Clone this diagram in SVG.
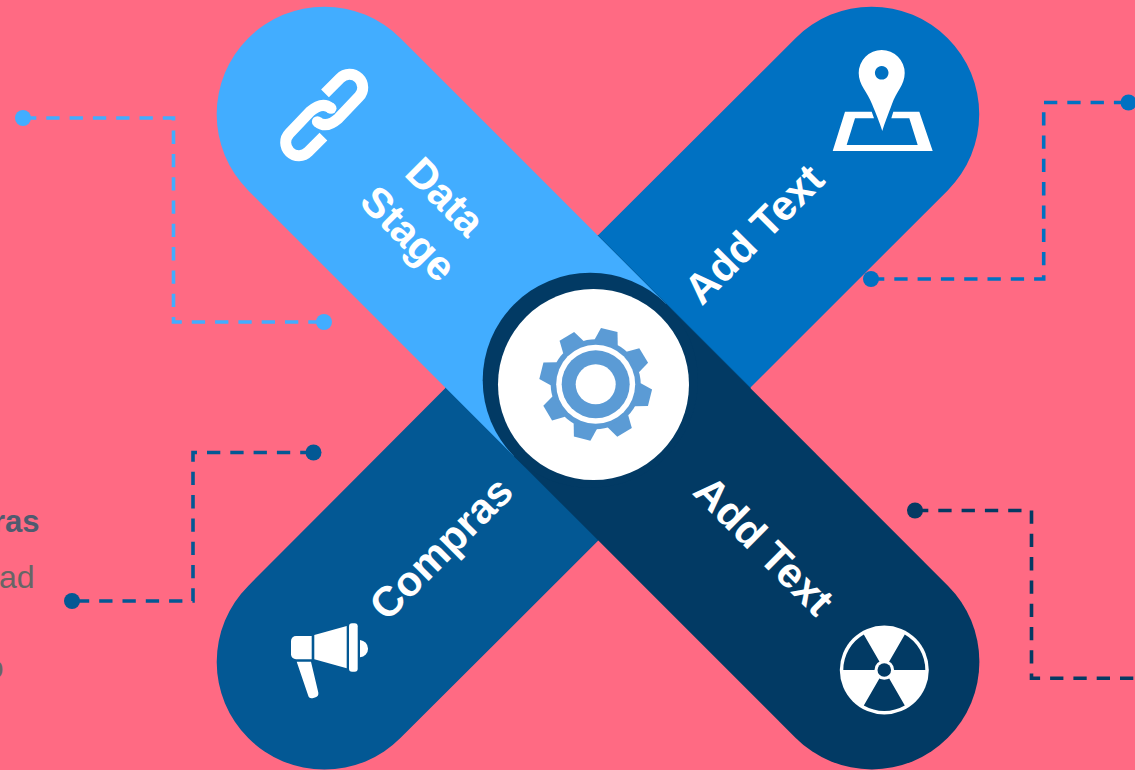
<svg xmlns="http://www.w3.org/2000/svg" xmlns:xlink="http://www.w3.org/1999/xlink" width="1135" height="770" viewBox="0 0 1135 770">
<style>
.label{font-family:"Liberation Sans",Arial,sans-serif;font-weight:700;font-size:42px;fill:#fff;text-anchor:middle}
.side{font-family:"Liberation Sans",Arial,sans-serif;font-size:32px;text-anchor:end;fill:#666}
.side.b{font-weight:700;font-size:31px;fill:#4f5b6f}
.dash{fill:none;stroke-width:3.6;stroke-dasharray:13.3 10}
.icon{fill:#fff}
.gear{fill:#5b9bd5}
</style>
<defs>
<g id="link"><path d="M0.8,-21.7 L15.8,-36.7 A13.2,13.2 0 0 1 34.8,-18.3 L14.2,3.3 Q2,14 -6.8,6.7" fill="none" stroke="#fff" stroke-width="11"/><circle cx="-6.8" cy="6.7" r="5.5" fill="#fff"/></g>
<polygon id="tooth" points="-8.5,-56 8.5,-56 12,-43 -12,-43"/>
</defs>
<rect id="background" width="1135" height="770" fill="#ff6a83"/>
<g id="connectors">
<path class="dash" stroke="#42adff" d="M23,118H173.5V322H324"/>
<circle cx="23" cy="118" r="8" fill="#42adff"/><circle cx="324" cy="322" r="8" fill="#42adff"/>
<path class="dash" stroke="#0071c2" d="M871,279H1043.7V102.5H1128"/>
<circle cx="871" cy="279" r="8" fill="#0071c2"/><circle cx="1128.5" cy="102.5" r="8" fill="#0071c2"/>
<path class="dash" stroke="#053a63" d="M915,510.5H1031.5V678.3H1140"/>
<circle cx="915" cy="510.5" r="8" fill="#053a63"/>
<path class="dash" stroke="#035894" d="M313.5,452.5H193V601H72"/>
<circle cx="313.5" cy="452.5" r="8" fill="#035894"/><circle cx="72" cy="601" r="8" fill="#035894"/>
</g>
<g id="node-add-text-top">
<path fill="#0071c2" d="M795.5,38.2A107.6,107.6 0 0 1 947.7,190.4L598,540L445,388Z"/>
<g class="icon">
<path d="M881.7,50A23,23 0 0 1 904.7,73C904.7,85 896,92 892,104C888,115 885,122 882.3,131C879.5,122 876.5,115 872,104C867.5,92 858.7,85 858.7,73A23,23 0 0 1 881.7,50ZM881.7,66a6.8,6.8 0 1 0 .01,0Z" fill-rule="evenodd"/>
<path d="M871.7,111.7L845,111.7L832.7,151L932.7,151L919.3,111.7L893.3,111.7L891.3,118.3L909.3,118.3L917.7,145L846.7,145L855,118.3L874,118.3Z"/>
</g>
<text class="label" transform="translate(754,234) rotate(-45)" y="14.5">Add Text</text>
</g>
<g id="node-compras">
<path fill="#035894" d="M598,235L751,388L400.4,738.1A107.6,107.6 0 0 1 248.2,585.9Z"/>
<g class="icon">
<path d="M296,636H311.7V659.3H296a5,5 0 0 1 -5,-5V641a5,5 0 0 1 5,-5Z"/>
<path d="M314.3,635L346.7,626V668.3L314.3,659.3Z"/>
<rect x="349" y="623.3" width="8.7" height="48.4" rx="3"/>
<path d="M360,640A9,8.7 0 0 1 360,657.3Z"/>
<path d="M296.7,661.7H311L318.3,692.5Q319,696.5 315,697.5L312.5,698.2Q309,699 308,695Z"/>
</g>
<text class="label" transform="translate(441,548) rotate(-45)" y="14.5">Compras</text>
</g>
<g id="node-data-stage">
<path fill="#42adff" d="M400.4,38.2A107.6,107.6 0 0 0 248.2,190.4L514.2,456.4L666.4,304.2Z"/>
<g><use xlink:href="#link" href="#link" transform="translate(324.2,115)"/><use xlink:href="#link" href="#link" transform="translate(324.2,115) rotate(180)"/></g>
<text class="label" transform="translate(425,217) rotate(45)"><tspan x="0" y="-14.4">Data</tspan><tspan x="0" y="37.8">Stage</tspan></text>
</g>
<g id="node-add-text-bottom">
<path fill="#023a64" d="M947.9,585.7A107.6,107.6 0 0 1 795.7,737.9L514.2,456.4L666.4,304.2Z"/>
<circle cx="884.3" cy="670" r="44.5" fill="#fff"/>
<path fill="#023a64" d="M884.3,670L843.3,670A41,41 0 0 1 863.8,634.5ZM884.3,670L904.8,634.5A41,41 0 0 1 925.3,670ZM884.3,670L904.8,705.5A41,41 0 0 1 863.8,705.5Z"/>
<circle cx="884.3" cy="670" r="9.8" fill="#fff"/>
<circle cx="884.3" cy="670" r="6.8" fill="#023a64"/>
<text class="label" transform="translate(764,545.5) rotate(45)" y="14.5">Add Text</text>
</g>
<g id="node-center">
<circle cx="590.3" cy="380.3" r="107.6" fill="#023a64"/>
<circle cx="593.5" cy="384.5" r="95.5" fill="#fff"/>
<g class="gear" transform="translate(595.7,384.3)">
<circle r="45"/>
<use href="#tooth" xlink:href="#tooth" transform="rotate(14)"/>
<use href="#tooth" xlink:href="#tooth" transform="rotate(59)"/>
<use href="#tooth" xlink:href="#tooth" transform="rotate(104)"/>
<use href="#tooth" xlink:href="#tooth" transform="rotate(149)"/>
<use href="#tooth" xlink:href="#tooth" transform="rotate(194)"/>
<use href="#tooth" xlink:href="#tooth" transform="rotate(239)"/>
<use href="#tooth" xlink:href="#tooth" transform="rotate(284)"/>
<use href="#tooth" xlink:href="#tooth" transform="rotate(329)"/>
<circle r="39.5" fill="#fff"/>
<circle r="34"/>
<circle r="20" fill="#fff"/>
</g>
</g>
<g id="side-text">
<text class="side b" x="39.5" y="531.7">ras</text>
<text class="side" x="34.5" y="587.7">ad</text>
<text class="side" x="3.5" y="678">o</text>
</g>
</svg>
